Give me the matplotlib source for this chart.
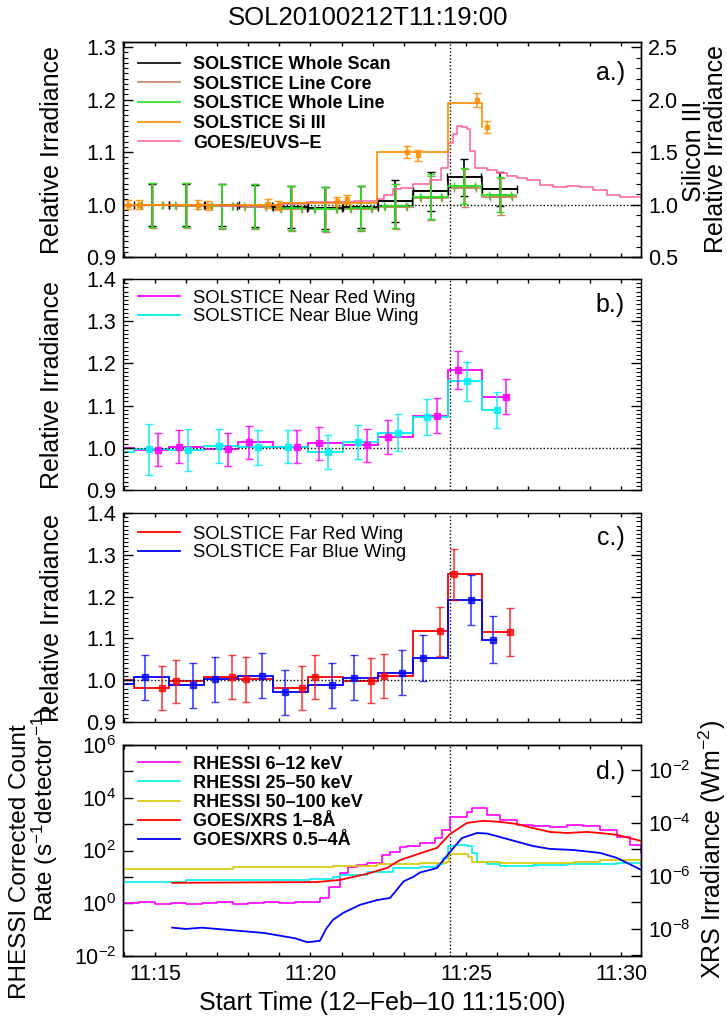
import numpy as np
import matplotlib
matplotlib.use('Agg')
import matplotlib.pyplot as plt
from matplotlib.ticker import MultipleLocator, FuncFormatter, LogLocator, NullLocator

plt.rcParams['font.family'] = ['Liberation Sans', 'DejaVu Sans']
plt.rcParams['mathtext.fontset'] = 'custom'
plt.rcParams['mathtext.rm'] = 'Liberation Sans'
plt.rcParams['mathtext.it'] = 'Liberation Sans:italic'
plt.rcParams['mathtext.bf'] = 'Liberation Sans:bold'
plt.rcParams['axes.linewidth'] = 1.0

# time axis in minutes after 11:15:00 (12-Feb-2010)
x_range = (-1.03, 15.63)
flare_time = 9.5

# SOLSTICE scan bins, first one is the partial bin at the left edge
bin_edges = [-1.8, -0.675, 0.45, 1.58, 2.67, 3.79, 4.92, 6.05, 7.17, 8.30, 9.42, 10.51, 11.64]
scan_t = [-0.11, 1.0, 2.14, 3.2, 4.36, 5.46, 6.61, 7.71, 8.86, 9.95, 11.09]

# panel a
whole_scan = [1.0, 1.0, 1.0, 0.999, 0.998, 0.995, 0.994, 0.995, 1.007, 1.025, 1.052, 1.03]
whole_scan_err = [0.04, 0.04, 0.04, 0.04, 0.04, 0.04, 0.04, 0.04, 0.038, 0.035, 0.033]
line_core = [1.0, 0.999, 0.998, 0.997, 0.996, 0.992, 0.991, 0.992, 0.996, 1.012, 1.032, 1.015]
line_core_err = [0.043, 0.043, 0.043, 0.043, 0.043, 0.043, 0.043, 0.043, 0.042, 0.036, 0.035]
whole_line = [1.0, 0.999, 0.999, 0.998, 0.997, 0.993, 0.992, 0.993, 0.998, 1.015, 1.035, 1.019]
whole_line_err = [0.042, 0.042, 0.042, 0.042, 0.042, 0.042, 0.042, 0.042, 0.043, 0.034, 0.034]
line_xerr = 0.35

si_step_t = [-1.8, 4.0, 7.15, 9.42, 10.51]
si_step_v = [1.0, 1.015, 1.5, 1.97, 1.74]
si_t = [-0.87, -0.51, 1.38, 1.70, 3.63, 3.95, 5.85, 6.17, 8.10, 8.46, 10.35, 10.67]
si_v = [1.0, 1.0, 1.0, 0.99, 1.01, 0.99, 1.03, 1.05, 1.5, 1.47, 2.0, 1.74]
si_err = [0.04, 0.04, 0.04, 0.04, 0.04, 0.04, 0.04, 0.04, 0.055, 0.055, 0.065, 0.055]

euvs_t = [-1.0, 0.5, 2.0, 3.5, 4.1, 4.9, 6.4, 7.15, 7.35, 7.65, 7.9, 8.3, 8.85, 9.2, 9.42,
          9.58, 9.71, 9.87, 10.03, 10.13, 10.29, 10.68, 11.0, 11.32, 11.64, 11.96, 12.38,
          12.8, 13.25, 13.67, 14.08, 14.53, 14.95, 15.63]
euvs_v = [1.0, 1.0, 0.998, 1.0, 1.002, 1.004, 1.006, 1.011, 1.019, 1.030, 1.032, 1.040,
          1.046, 1.070, 1.118, 1.135, 1.149, 1.147, 1.145, 1.103, 1.070, 1.065, 1.061,
          1.055, 1.051, 1.046, 1.038, 1.034, 1.036, 1.034, 1.027, 1.019, 1.015, 1.013]

# panel b
near_red = [1.0, 0.995, 1.003, 0.997, 1.013, 1.002, 1.011, 1.006, 1.026, 1.076, 1.184, 1.121]
near_red_t = [0.10, 0.77, 2.35, 3.02, 4.57, 5.27, 6.82, 7.49, 9.07, 9.74, 11.29]
near_red_err = [0.039, 0.039, 0.039, 0.039, 0.039, 0.039, 0.039, 0.04, 0.041, 0.045, 0.042]
near_red_end = 11.4
near_blue = [0.989, 0.996, 0.995, 1.005, 1.001, 1.003, 0.99, 1.014, 1.036, 1.073, 1.158, 1.09]
near_blue_t = [-0.19, 1.06, 2.06, 3.31, 4.28, 5.56, 6.53, 7.81, 8.75, 10.03, 11.0]
near_blue_err = [0.06, 0.05, 0.04, 0.041, 0.04, 0.041, 0.041, 0.043, 0.043, 0.046, 0.043]
near_blue_end = 11.0

# panel c
far_red = [1.0, 0.981, 0.997, 1.008, 1.002, 0.981, 1.008, 0.999, 1.010, 1.117, 1.254, 1.115]
far_red_t = [0.23, 0.68, 2.48, 2.93, 4.73, 5.14, 6.95, 7.36, 9.16, 9.61, 11.41]
far_red_err = [0.052, 0.052, 0.052, 0.053, 0.052, 0.053, 0.053, 0.053, 0.058, 0.061, 0.057]
far_red_end = 11.41
far_blue = [0.992, 1.007, 0.988, 1.002, 1.011, 0.971, 0.988, 1.006, 1.018, 1.053, 1.191, 1.097]
far_blue_t = [-0.32, 1.22, 1.93, 3.44, 4.18, 5.69, 6.40, 7.94, 8.62, 10.16, 10.87]
far_blue_err = [0.054, 0.054, 0.054, 0.054, 0.054, 0.054, 0.054, 0.054, 0.056, 0.06, 0.057]
far_blue_end = 11.0

# panel d, log10 values
r612_t = [-1.0, -0.5, 0.0, 0.5, 1.0, 1.5, 2.0, 2.5, 3.0, 3.5, 4.0, 4.5, 5.0, 5.24, 5.31, 5.6,
          5.95, 6.21, 6.5, 6.82, 7.14, 7.30, 7.56, 7.88, 8.10, 8.52, 9.0, 9.23, 9.49, 10.03,
          10.19, 10.68, 11.09, 11.64, 12.15, 12.70, 13.25, 13.76, 14.31, 14.86, 15.27, 15.63]
r612_log = [0.0, 0.03, -0.04, 0.0, -0.03, 0.02, 0.04, -0.02, 0.02, 0.04, 0.0, 0.03, 0.05,
            0.05, 0.2, 0.6, 1.15, 1.38, 1.45, 1.53, 1.53, 1.83, 1.95, 2.14, 2.17, 2.29, 2.48,
            2.78, 3.27, 3.46, 3.61, 3.35, 3.16, 2.97, 2.93, 2.89, 2.97, 2.93, 2.78, 2.52,
            2.21, 1.91]
r2550_t = [-1.0, 1.0, 3.0, 5.0, 5.72, 5.95, 6.82, 7.65, 8.52, 9.07, 9.26, 9.42, 9.65, 10.03,
           10.19, 10.35, 10.68, 11.09, 12.15, 13.25, 14.31, 14.86, 15.63]
r2550_log = [0.81, 0.87, 0.89, 0.92, 1.0, 1.08, 1.19, 1.34, 1.38, 1.49, 1.72, 2.17, 2.21,
             2.17, 1.91, 1.57, 1.49, 1.42, 1.45, 1.49, 1.49, 1.53, 1.45]
r50100_t = [-1.0, 2.5, 5.72, 7.14, 8.52, 9.36, 9.45, 10.06, 10.19, 11.09, 13.46, 14.31, 15.63]
r50100_log = [1.30, 1.38, 1.42, 1.49, 1.53, 1.57, 1.87, 1.76, 1.57, 1.53, 1.57, 1.64, 1.61]
xrs_long_t = [0.55, 5.2, 5.95, 6.82, 7.46, 7.88, 8.52, 9.07, 9.49, 10.03, 10.55, 11.09,
              11.64, 12.15, 12.70, 13.25, 13.89, 14.31, 14.86, 15.63]
xrs_long_log = [-6.26, -6.23, -6.15, -5.92, -5.70, -5.40, -5.15, -4.94, -4.42, -4.0, -3.92,
                -3.96, -4.04, -4.19, -4.34, -4.38, -4.34, -4.38, -4.45, -4.68]
xrs_short_t = [0.55, 1.0, 1.5, 2.0, 2.5, 3.0, 3.5, 4.0, 4.5, 4.9, 5.3, 5.5, 5.72, 6.04, 6.59,
               7.14, 7.56, 8.0, 8.3, 8.52, 9.07, 9.49, 9.87, 10.35, 10.68, 11.09, 12.15,
               12.70, 13.44, 14.31, 14.86, 15.63]
xrs_short_log = [-7.95, -8.0, -7.95, -8.0, -8.05, -8.1, -8.15, -8.25, -8.35, -8.5, -8.45,
                 -8.0, -7.66, -7.40, -7.09, -6.91, -6.83, -6.2, -6.04, -5.87, -5.70, -5.09,
                 -4.57, -4.38, -4.40, -4.53, -4.87, -4.98, -5.02, -5.13, -5.32, -5.77]

W, H = 727.0, 1019.0
fig = plt.figure(figsize=(W / 100, H / 100), dpi=100)


def box(top, bottom):
    return [123 / W, 1 - bottom / H, 518 / W, (bottom - top) / H]


ax_a = fig.add_axes(box(42, 257))
ax_b = fig.add_axes(box(279, 490))
ax_c = fig.add_axes(box(513, 722))
ax_d = fig.add_axes(box(745, 956))

dots = (0, (1, 1.5))


def style_x(ax, labels=False):
    ax.set_xlim(*x_range)
    ax.xaxis.set_major_locator(MultipleLocator(5))
    ax.xaxis.set_minor_locator(MultipleLocator(1))
    ax.tick_params(axis='x', which='both', direction='in', top=True, bottom=True,
                   length=3, width=1, labelsize=15.5, pad=6, labelbottom=labels)
    ax.axvline(flare_time, color='k', ls=dots, lw=1)


def style_lin_y(ax, left=True, right=True):
    ax.tick_params(axis='y', which='major', direction='in', length=7, width=1,
                   left=left, right=right, labelsize=15.5, pad=5)
    ax.tick_params(axis='y', which='minor', direction='in', length=3.5, width=0.8,
                   left=left, right=right)


edges = np.array(bin_edges)
half_bins = np.diff(edges[1:]) / 2

# ---- panel a
style_x(ax_a)
ax_a.set_ylim(0.9, 1.31)
ax_a.yaxis.set_major_locator(MultipleLocator(0.1))
ax_a.yaxis.set_minor_locator(MultipleLocator(0.01))
style_lin_y(ax_a, right=False)
ax_a.yaxis.set_major_formatter(FuncFormatter(lambda v, p: '%.1f' % v))
ax_a.axhline(1.0, color='k', ls=dots, lw=1)

h_ws = ax_a.stairs(whole_scan, edges, baseline=None, color='black', lw=1.2)
ax_a.errorbar(scan_t, whole_scan[1:], yerr=whole_scan_err, xerr=half_bins, fmt='none',
              ecolor='black', elinewidth=1.2, capsize=3)
h_lc = ax_a.stairs(line_core, edges, baseline=None, color='#c8805f', lw=1.2)
ax_a.errorbar(np.array(scan_t) + 0.03, line_core[1:], yerr=line_core_err, xerr=line_xerr,
              fmt='none', ecolor='#c8805f', elinewidth=1.2, capsize=3)
h_wl = ax_a.stairs(whole_line, edges, baseline=None, color='#22e022', lw=1.2)
ax_a.errorbar(scan_t, whole_line[1:], yerr=whole_line_err, xerr=line_xerr, fmt='none',
              ecolor='#22e022', elinewidth=1.2, capsize=3)
h_eu, = ax_a.plot(euvs_t, euvs_v, color='#ff5f96', lw=1.1, drawstyle='steps-post')

ax_a2 = ax_a.twinx()
ax_a2.set_xlim(*x_range)
ax_a2.set_ylim(0.5, 2.55)
ax_a2.yaxis.set_major_locator(MultipleLocator(0.5))
ax_a2.yaxis.set_minor_locator(MultipleLocator(0.1))
style_lin_y(ax_a2, left=False)
ax_a2.tick_params(axis='y', labelright=True)
ax_a2.yaxis.set_major_formatter(FuncFormatter(lambda v, p: '%.1f' % v))
h_si, = ax_a2.step(si_step_t, si_step_v, where='post', color='#ff8c00', lw=1.2)
ax_a2.errorbar(si_t, si_v, yerr=si_err, fmt='s', ms=3.5, color='#ff8c00', alpha=0.85,
               elinewidth=1.2, capsize=3)
ax_a2.legend([h_ws, h_lc, h_wl, h_si, h_eu],
             ['SOLSTICE Whole Scan', 'SOLSTICE Line Core', 'SOLSTICE Whole Line',
              'SOLSTICE Si III', 'GOES/EUVS\u2013E'],
             loc='upper left', bbox_to_anchor=(0.029, 0.935), frameon=False, borderpad=0,
             borderaxespad=0, handlelength=2.33, handletextpad=0.72, labelspacing=0.15,
             prop={'size': 13, 'weight': 'bold'})
ax_a2.text(0.969, 0.856, 'a.)', transform=ax_a2.transAxes, ha='right', va='center', fontsize=18)

# ---- panel b
style_x(ax_b)
ax_b.set_ylim(0.9, 1.4)
ax_b.yaxis.set_major_locator(MultipleLocator(0.1))
ax_b.yaxis.set_minor_locator(MultipleLocator(0.01))
ax_b.yaxis.set_major_formatter(FuncFormatter(lambda v, p: '%.1f' % v))
style_lin_y(ax_b)
ax_b.axhline(1.0, color='k', ls=dots, lw=1)
e_red = np.append(edges[:-1], near_red_end)
e_blue = np.append(edges[:-1], near_blue_end)
h_nr = ax_b.stairs(near_red, e_red, baseline=None, color='#ff00ff', lw=1.3)
h_nb = ax_b.stairs(near_blue, e_blue, baseline=None, color='#00f0f0', lw=1.3)
ax_b.errorbar(near_red_t, near_red[1:], yerr=near_red_err, fmt='s', ms=4, color='#ff00ff',
              alpha=0.85, elinewidth=1.2, capsize=3)
ax_b.errorbar(near_blue_t, near_blue[1:], yerr=near_blue_err, fmt='s', ms=4, color='#00f0f0',
              alpha=0.85, elinewidth=1.2, capsize=3)
ax_b.legend([h_nr, h_nb], ['SOLSTICE Near Red Wing', 'SOLSTICE Near Blue Wing'],
            loc='upper left', bbox_to_anchor=(0.029, 0.95), frameon=False, borderpad=0,
            borderaxespad=0, handlelength=2.27, handletextpad=0.7, labelspacing=0.1,
            prop={'size': 13.3})
ax_b.text(0.969, 0.877, 'b.)', transform=ax_b.transAxes, ha='right', va='center', fontsize=18)

# ---- panel c
style_x(ax_c)
ax_c.set_ylim(0.9, 1.4)
ax_c.yaxis.set_major_locator(MultipleLocator(0.1))
ax_c.yaxis.set_minor_locator(MultipleLocator(0.01))
ax_c.yaxis.set_major_formatter(FuncFormatter(lambda v, p: '%.1f' % v))
style_lin_y(ax_c)
ax_c.axhline(1.0, color='k', ls=dots, lw=1)
e_red = np.append(edges[:-1], far_red_end)
e_blue = np.append(edges[:-1], far_blue_end)
h_fr = ax_c.stairs(far_red, e_red, baseline=None, color='#ff0000', lw=1.3)
h_fb = ax_c.stairs(far_blue, e_blue, baseline=None, color='#0000ff', lw=1.3)
ax_c.errorbar(far_red_t, far_red[1:], yerr=far_red_err, fmt='s', ms=4, color='#ff0000',
              alpha=0.75, elinewidth=1.2, capsize=3)
ax_c.errorbar(far_blue_t, far_blue[1:], yerr=far_blue_err, fmt='s', ms=4, color='#0000ff',
              alpha=0.75, elinewidth=1.2, capsize=3)
ax_c.legend([h_fr, h_fb], ['SOLSTICE Far Red Wing', 'SOLSTICE Far Blue Wing'],
            loc='upper left', bbox_to_anchor=(0.029, 0.94), frameon=False, borderpad=0,
            borderaxespad=0, handlelength=2.27, handletextpad=0.7, labelspacing=0.1,
            prop={'size': 13.3})
ax_c.text(0.969, 0.88, 'c.)', transform=ax_c.transAxes, ha='right', va='center', fontsize=18)

# ---- panel d
style_x(ax_d, labels=True)
ax_d.xaxis.set_major_formatter(FuncFormatter(lambda v, p: '11:%02d' % (15 + int(round(v)))))
ax_d.set_yscale('log')
ax_d.set_ylim(1e-2, 1e6)


def even_decades(v, p):
    e = int(round(np.log10(v)))
    return r'10$^{%d}$' % e if e % 2 == 0 else ''


ax_d.yaxis.set_major_locator(LogLocator(base=10, numticks=40))
ax_d.yaxis.set_minor_locator(NullLocator())
ax_d.yaxis.set_major_formatter(FuncFormatter(even_decades))
ax_d.tick_params(axis='y', which='major', direction='in', length=7, width=1, left=True,
                 right=False, labelsize=15.5, pad=5)

h_612, = ax_d.plot(r612_t, 10 ** np.array(r612_log), color='#ff00ff', lw=1.2,
                   drawstyle='steps-post')
h_2550, = ax_d.plot(r2550_t, 10 ** np.array(r2550_log), color='#00f0f0', lw=1.2,
                    drawstyle='steps-post')
h_50100, = ax_d.plot(r50100_t, 10 ** np.array(r50100_log), color='#d4c800', lw=1.2,
                     drawstyle='steps-post')

ax_d2 = ax_d.twinx()
ax_d2.set_xlim(*x_range)
ax_d2.set_yscale('log')
ax_d2.set_ylim(10 ** -9.02, 10 ** -1.06)
ax_d2.yaxis.set_major_locator(LogLocator(base=10, numticks=40))
ax_d2.yaxis.set_minor_locator(NullLocator())
ax_d2.yaxis.set_major_formatter(FuncFormatter(even_decades))
ax_d2.tick_params(axis='y', which='major', direction='in', length=7, width=1, left=False,
                  right=True, labelsize=15.5, pad=5)
h_long, = ax_d2.plot(xrs_long_t, 10 ** np.array(xrs_long_log), color='#ff0000', lw=1.3)
h_short, = ax_d2.plot(xrs_short_t, 10 ** np.array(xrs_short_log), color='#0000ff', lw=1.3)
ax_d2.legend([h_612, h_2550, h_50100, h_long, h_short],
             ['RHESSI 6\u201312 keV', 'RHESSI 25\u201350 keV', 'RHESSI 50\u2013100 keV',
              'GOES/XRS 1\u20138\u00c5', 'GOES/XRS 0.5\u20134\u00c5'],
             loc='upper left', bbox_to_anchor=(0.029, 0.95), frameon=False, borderpad=0,
             borderaxespad=0, handlelength=2.33, handletextpad=0.72, labelspacing=0.12,
             prop={'size': 13, 'weight': 'bold'})
ax_d2.text(0.969, 0.872, 'd.)', transform=ax_d2.transAxes, ha='right', va='center', fontsize=18)

ax_d.set_xlabel('Start Time (12\u2013Feb\u201310 11:15:00)', fontsize=18, labelpad=4)

# titles and axis labels
fig.text(368 / W, 1 - 18 / H, 'SOL20100212T11:19:00', ha='center', va='center', fontsize=18.5)
for top, bottom in ((42, 257), (279, 490), (513, 722)):
    fig.text(52 / W, 1 - (top + bottom) / 2 / H, 'Relative Irradiance', rotation=90,
             ha='center', va='center', fontsize=18)
fig.text(694 / W, 1 - 151 / H, 'Silicon III', rotation=90, ha='center', va='center', fontsize=18)
fig.text(716 / W, 1 - 149 / H, 'Relative Irradiance', rotation=90, ha='center', va='center',
         fontsize=18)
fig.text(20 / W, 1 - 862 / H, 'RHESSI Corrected Count', rotation=90, ha='center',
         va='center', fontsize=17.5)
fig.text(45 / W, 1 - 815 / H, r'Rate (s$^{-1}$detector$^{-1}$)', rotation=90, ha='center',
         va='center', fontsize=17.5)
fig.text(712 / W, 1 - 850 / H, r'XRS Irradiance (Wm$^{-2}$)', rotation=90, ha='center',
         va='center', fontsize=18)

fig.savefig('out.png', dpi=100)
